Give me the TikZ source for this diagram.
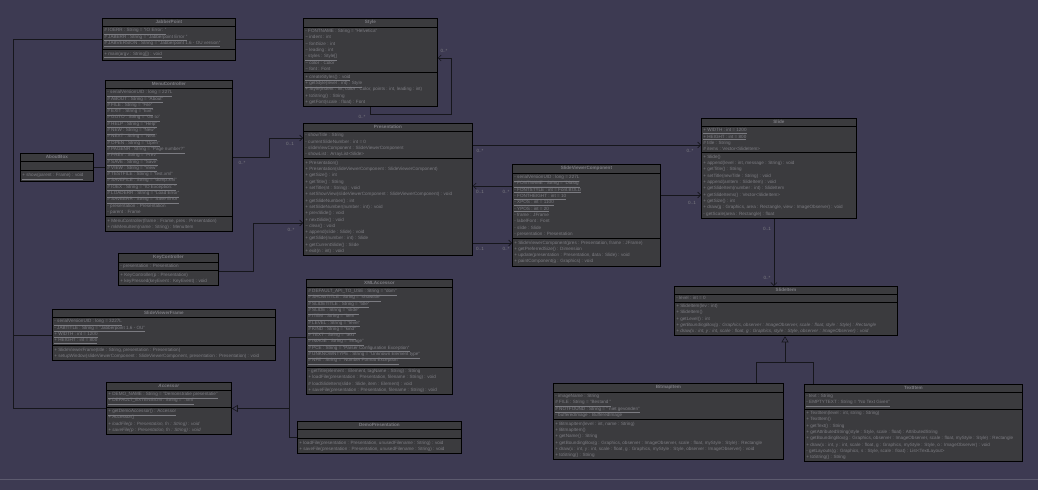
\documentclass[tikz,border=0pt]{standalone}
\usepackage{fontspec}
\setmainfont{Liberation Sans}
\usetikzlibrary{shapes.multipart,arrows.meta}
\definecolor{bgpurple}{RGB}{61,58,82}
\definecolor{boxgray}{RGB}{59,59,62}
\definecolor{inkgray}{RGB}{124,124,130}
\definecolor{wiredark}{RGB}{22,22,28}
\definecolor{edgegray}{RGB}{92,90,110}
\tikzset{
  umlclass/.style={rectangle split, rectangle split parts=3, draw=black, line width=0.8pt,
    fill=boxgray, text=inkgray, align=left, rectangle split part align={center,left,left},
    inner xsep=2pt, inner ysep=1.8pt, anchor=north west, font=\fontsize{4.6}{6.3}\selectfont},
  multlabel/.style={text=inkgray, inner sep=0pt, font=\fontsize{4.6}{5}\selectfont},
  plainwire/.style={draw=wiredark, line width=0.6pt},
  assoc/.style={plainwire, -{Straight Barb[length=3pt,width=6pt]}},
  generalize/.style={plainwire, -{Triangle[length=6pt,width=7pt,fill=bgpurple]}}
}
\begin{document}
\begin{tikzpicture}[x=1pt,y=-1pt]
\fill[bgpurple] (0,0) rectangle (1038,490);
\useasboundingbox (0,0) rectangle (1038,490);
\draw[edgegray,line width=0.8pt] (0,479) -- (1038,479);

\node[umlclass,minimum width=133] (jabber) at (102,18) {\textbf{JabberPoint}
\nodepart{second}\underline{\# IOERR : String = "IO Error: "}\\
\underline{\# JABERR : String = "Jabberpoint Error "}\\
\underline{\# JABVERSION : String = "Jabberpoint 1.6 - OU version"}
\nodepart{third}\underline{+ main(argv : String[]) : void}};

\node[umlclass,minimum width=134] (style) at (303,18) {\textbf{Style}
\nodepart{second}- FONTNAME : String = "Helvetica"\\
\textasciitilde{} indent : int\\
\textasciitilde{} fontSize : int\\
\textasciitilde{} leading : int\\
\underline{- styles : Style[]}\\
\textasciitilde{} color : Color\\
\textasciitilde{} font : Font
\nodepart{third}\underline{+ createStyles() : void}\\
\underline{+ getStyle(level : int) : Style}\\
+ Style(indent : int, color : Color, points : int, leading : int)\\
+ toString() : String\\
+ getFont(scale : float) : Font};

\node[umlclass,minimum width=127] (menu) at (105,80) {\textbf{MenuController}
\nodepart{second}\underline{- serialVersionUID : long = 227L}\\
\underline{\# ABOUT : String = "About"}\\
\underline{\# FILE : String = "File"}\\
\underline{\# EXIT : String = "Exit"}\\
\underline{\# GOTO : String = "Go to"}\\
\underline{\# HELP : String = "Help"}\\
\underline{\# NEW : String = "New"}\\
\underline{\# NEXT : String = "Next"}\\
\underline{\# OPEN : String = "Open"}\\
\underline{\# PAGENR : String = "Page number?"}\\
\underline{\# PREV : String = "Prev"}\\
\underline{\# SAVE : String = "Save"}\\
\underline{\# VIEW : String = "View"}\\
\underline{\# TESTFILE : String = "test.xml"}\\
\underline{\# SAVEFILE : String = "dump.xml"}\\
\underline{\# IOEX : String = "IO Exception: "}\\
\underline{\# LOADERR : String = "Load Error"}\\
\underline{\# SAVEERR : String = "Save Error"}\\
- presentation : Presentation\\
- parent : Frame
\nodepart{third}+ MenuController(frame : Frame, pres : Presentation)\\
+ mkMenuItem(name : String) : MenuItem};

\node[umlclass,minimum width=73] (about) at (20,153) {\textbf{AboutBox}
\nodepart{second}
\nodepart{third}\underline{+ show(parent : Frame) : void}};

\node[umlclass,minimum width=169] (pres) at (303,123) {\textbf{Presentation}
\nodepart{second}- showTitle : String\\
- currentSlideNumber : int = 0\\
- slideViewComponent : SlideViewerComponent\\
- showList : ArrayList<Slide>
\nodepart{third}+ Presentation()\\
+ Presentation(slideViewerComponent : SlideViewerComponent)\\
+ getSize() : int\\
+ getTitle() : String\\
+ setTitle(nt : String) : void\\
+ setShowView(slideViewerComponent : SlideViewerComponent) : void\\
+ getSlideNumber() : int\\
+ setSlideNumber(number : int) : void\\
+ prevSlide() : void\\
+ nextSlide() : void\\
\textasciitilde{} clear() : void\\
+ append(slide : Slide) : void\\
+ getSlide(number : int) : Slide\\
+ getCurrentSlide() : Slide\\
+ exit(n : int) : void};

\node[umlclass,minimum width=148] (svc) at (512,164) {\textbf{SlideViewerComponent}
\nodepart{second}\underline{- serialVersionUID : long = 227L}\\
\underline{- FONTNAME : String = "Dialog"}\\
\underline{- FONTSTYLE : int = Font.BOLD}\\
\underline{- FONTHEIGHT : int = 10}\\
\underline{- XPOS : int = 1100}\\
\underline{- YPOS : int = 20}\\
- frame : JFrame\\
- labelFont : Font\\
- slide : Slide\\
- presentation : Presentation
\nodepart{third}+ SlideViewerComponent(pres : Presentation, frame : JFrame)\\
+ getPreferredSize() : Dimension\\
+ update(presentation : Presentation, data : Slide) : void\\
+ paintComponent(g : Graphics) : void};

\node[umlclass,minimum width=155] (slide) at (701,118) {\textbf{Slide}
\nodepart{second}\underline{+ WIDTH : int = 1200}\\
\underline{+ HEIGHT : int = 800}\\
\# title : String\\
\# items : Vector<SlideItem>
\nodepart{third}+ Slide()\\
+ append(level : int, message : String) : void\\
+ getTitle() : String\\
+ setTitle(newTitle : String) : void\\
+ append(anItem : SlideItem) : void\\
+ getSlideItem(number : int) : SlideItem\\
+ getSlideItems() : Vector<SlideItem>\\
+ getSize() : int\\
+ draw(g : Graphics, area : Rectangle, view : ImageObserver) : void\\
- getScale(area : Rectangle) : float};

\node[umlclass,minimum width=223] (item) at (674,286) {\textbf{SlideItem}
\nodepart{second}- level : int = 0
\nodepart{third}+ SlideItem(lev : int)\\
+ SlideItem()\\
+ getLevel() : int\\
\textit{+ getBoundingBox(g : Graphics, observer : ImageObserver, scale : float, style : Style) : Rectangle}\\
\textit{+ draw(x : int, y : int, scale : float, g : Graphics, style : Style, observer : ImageObserver) : void}};

\node[umlclass,minimum width=100] (key) at (118,253) {\textbf{KeyController}
\nodepart{second}- presentation : Presentation
\nodepart{third}+ KeyController(p : Presentation)\\
+ keyPressed(keyEvent : KeyEvent) : void};

\node[umlclass,minimum width=223] (frame) at (52,309) {\textbf{SlideViewerFrame}
\nodepart{second}\underline{- serialVersionUID : long = 3227L}\\
\underline{- JABTITLE : String = "Jabberpoint 1.6 - OU"}\\
\underline{+ WIDTH : int = 1200}\\
\underline{+ HEIGHT : int = 800}
\nodepart{third}+ SlideViewerFrame(title : String, presentation : Presentation)\\
+ setupWindow(slideViewerComponent : SlideViewerComponent, presentation : Presentation) : void};

\node[umlclass,minimum width=146] (xml) at (306,279) {\textbf{XMLAccessor}
\nodepart{second}\underline{\# DEFAULT\_API\_TO\_USE : String = "dom"}\\
\underline{\# SHOWTITLE : String = "showtitle"}\\
\underline{\# SLIDETITLE : String = "title"}\\
\underline{\# SLIDE : String = "slide"}\\
\underline{\# ITEM : String = "item"}\\
\underline{\# LEVEL : String = "level"}\\
\underline{\# KIND : String = "kind"}\\
\underline{\# TEXT : String = "text"}\\
\underline{\# IMAGE : String = "image"}\\
\underline{\# PCE : String = "Parser Configuration Exception"}\\
\underline{\# UNKNOWNTYPE : String = "Unknown Element type"}\\
\underline{\# NFE : String = "Number Format Exception"}
\nodepart{third}- getTitle(element : Element, tagName : String) : String\\
+ loadFile(presentation : Presentation, filename : String) : void\\
\# loadSlideItem(slide : Slide, item : Element) : void\\
+ saveFile(presentation : Presentation, filename : String) : void};

\node[umlclass,minimum width=125] (accessor) at (106,382) {\textbf{\textit{Accessor}}
\nodepart{second}\underline{+ DEMO\_NAME : String = "Demonstratie presentatie"}\\
\underline{+ DEFAULT\_EXTENSION : String = ".xml"}
\nodepart{third}\underline{+ getDemoAccessor() : Accessor}\\
+ Accessor()\\
\textit{+ loadFile(p : Presentation, fn : String) : void}\\
\textit{+ saveFile(p : Presentation, fn : String) : void}};

\node[umlclass,minimum width=164] (demo) at (297,421) {\textbf{DemoPresentation}
\nodepart{second}
\nodepart{third}+ loadFile(presentation : Presentation, unusedFilename : String) : void\\
+ saveFile(presentation : Presentation, unusedFilename : String) : void};

\node[umlclass,minimum width=230] (bitmap) at (553,383) {\textbf{BitmapItem}
\nodepart{second}- imageName : String\\
\underline{\# FILE : String = "Bestand "}\\
\underline{\# NOTFOUND : String = " niet gevonden"}\\
- bufferedImage : BufferedImage
\nodepart{third}+ BitmapItem(level : int, name : String)\\
+ BitmapItem()\\
+ getName() : String\\
+ getBoundingBox(g : Graphics, observer : ImageObserver, scale : float, myStyle : Style) : Rectangle\\
+ draw(x : int, y : int, scale : float, g : Graphics, myStyle : Style, observer : ImageObserver) : void\\
+ toString() : String};

\node[umlclass,minimum width=218] (textitem) at (804,384) {\textbf{TextItem}
\nodepart{second}- text : String\\
\underline{- EMPTYTEXT : String = "No Text Given"}
\nodepart{third}+ TextItem(level : int, string : String)\\
+ TextItem()\\
+ getText() : String\\
+ getAttributedString(style : Style, scale : float) : AttributedString\\
+ getBoundingBox(g : Graphics, observer : ImageObserver, scale : float, myStyle : Style) : Rectangle\\
+ draw(x : int, y : int, scale : float, g : Graphics, myStyle : Style, o : ImageObserver) : void\\
- getLayouts(g : Graphics, s : Style, scale : float) : List<TextLayout>\\
+ toString() : String};

\coordinate (rail) at (13,0);
\coordinate (accjoin) at (289,0);
\coordinate (itemjoin) at (785,362);

\draw[plainwire] (jabber.east) -- (jabber.east -| style.west);
\draw[plainwire] (jabber.west) -- (jabber.west -| rail) |- (accessor.west);
\draw[plainwire] (frame.west) -- (frame.west -| rail);
\draw[plainwire] (about.east) -- (about.east -| menu.west);
\draw[assoc] ([yshift=-77pt]menu.north east) -- ++(36,0) |- ([yshift=-15pt]pres.north west);
\draw[assoc] ([yshift=-18pt]key.north east) -- ++(34,0) |- ([yshift=-100pt]pres.north west);
\draw[assoc] ([yshift=-22pt]pres.north east) -- ([yshift=-22pt]pres.north east -| slide.west);
\draw[assoc] ([yshift=-22pt]svc.north west) -- ([yshift=-22pt]svc.north west -| pres.east);
\draw[assoc] ([yshift=-79pt]svc.north west -| pres.east) -- ([yshift=-79pt]svc.north west);
\draw[assoc] ([yshift=-31pt]svc.north east) -- ([yshift=-31pt]svc.north east -| slide.west);
\draw[assoc] ([xshift=-5pt]slide.south) -- ([xshift=-5pt]slide.south |- item.north);
\draw[assoc] ([xshift=67pt]style.south west) -- ++(0,7) -- ++(81,0) |- ([yshift=-40pt]style.north east);
\draw[generalize] (xml.west) -| (accjoin |- accessor.east) -- (accessor.east);
\draw[plainwire] (demo.west) -| (accjoin |- accessor.east);
\draw[plainwire] ([xshift=-28pt]bitmap.north east) |- (itemjoin);
\draw[plainwire] ([xshift=9pt]textitem.north west) |- (itemjoin);
\draw[generalize] (itemjoin) -- (itemjoin |- item.south);

\node[multlabel] (m1) at (444,51) {0..*};
\node[multlabel] (m2) at (362,117) {0..*};
\node[multlabel] (m3) at (242,163) {0..*};
\node[multlabel] (m4) at (290,144) {0..1};
\node[multlabel] (m5) at (291,230) {0..*};
\node[multlabel] (m6) at (480,151) {0..*};
\node[multlabel] (m7) at (690,151) {0..*};
\node[multlabel] (m8) at (480,192) {0..1};
\node[multlabel] (m9) at (506,192) {0..*};
\node[multlabel] (m10) at (480,249) {0..1};
\node[multlabel] (m11) at (506,249) {0..*};
\node[multlabel] (m12) at (692,203) {0..1};
\node[multlabel] (m13) at (767,229) {0..1};
\node[multlabel] (m14) at (767,278) {0..*};
\end{tikzpicture}
\end{document}
